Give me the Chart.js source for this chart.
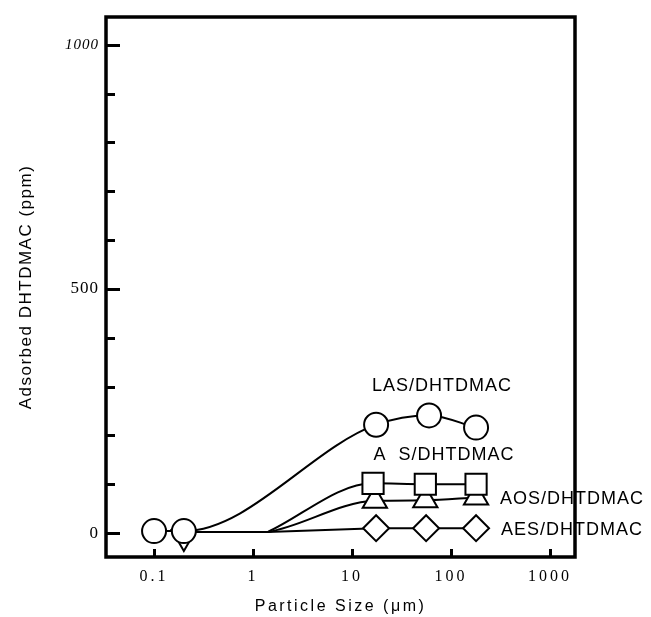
<!DOCTYPE html>
<html><head><meta charset="utf-8">
<script src="https://cdn.jsdelivr.net/npm/chart.js@4.4.0/dist/chart.umd.min.js"></script>
<style>html,body{margin:0;padding:0;background:#fff}#wrap{width:651px;height:617px}</style>
</head><body><div id="wrap"><canvas id="c" width="651" height="617"></canvas></div>
<script>
// ---- data ----
const lasX = [0.1, 0.2, 17.5, 60, 179];
const lasY = [4, 4, 222, 241, 216];
const asX  = [1.4, 16.3, 55, 179];
const asY  = [2, 102, 100, 100];
const aosX = [0.2, 1.4, 17, 55, 179];
const aosY = [-8, 2, 66, 67, 73];
const aesX = [0.2, 1.4, 17.5, 56, 179];
const aesY = [2, 2, 10, 10, 10];
const seriesNames = ['LAS/DHTDMAC', 'A  S/DHTDMAC', 'AOS/DHTDMAC', 'AES/DHTDMAC'];
const xTickValues = [0.1, 1, 10, 100, 1000];
const xTickLabels = ['0.1', '1', '10', '100', '1000'];
const yTickValues = [0, 100, 200, 300, 400, 500, 600, 700, 800, 900, 1000];
const yTickLabels = {0: '0', 500: '500', 1000: '1000'};
const xTitle = 'Particle Size (\u03bcm)';
const yTitle = 'Adsorbed DHTDMAC (ppm)';

const pts = (xs, ys) => xs.map((x, i) => ({x: x, y: ys[i]}));

// label anchors (style): [x value, y value, align]
const labelAnchors = [
  [81, 302, 'center'],
  [85, 159, 'center'],
  [313, 69, 'left'],
  [320, 6, 'left']
];
const letterSpacing = {x: {labels: '3px', title: '2.5px'}, y: {labels: '1px', title: '1.5px'}};

const spacingPlugin = {
  id: 'spacing',
  beforeDraw(chart) {
    Object.keys(chart.scales).forEach(id => {
      const s = chart.scales[id];
      if (s._lsPatched) return;
      s._lsPatched = true;
      [['drawTitle', 'title'], ['drawLabels', 'labels']].forEach(([fn, key]) => {
        const orig = s[fn];
        s[fn] = function () {
          const c = this.ctx; const prev = c.letterSpacing;
          c.letterSpacing = (letterSpacing[id] || {})[key] || '0px';
          orig.apply(this, arguments);
          c.letterSpacing = prev;
        };
      });
    });
  }
};

const framePlugin = {
  id: 'frame',
  afterDatasetsDraw(chart) {
    const {ctx, scales: {x, y}} = chart;
    ctx.save();
    ctx.fillStyle = '#000';
    ctx.font = '18px "Liberation Sans", Arial, sans-serif';
    ctx.letterSpacing = '1px';
    ctx.textBaseline = 'middle';
    labelAnchors.forEach((a, i) => {
      ctx.textAlign = a[2];
      ctx.fillText(seriesNames[i], x.getPixelForValue(a[0]), y.getPixelForValue(a[1]));
    });
    ctx.restore();
  },
  afterDraw(chart) {
    const {ctx, chartArea: a, scales: {x, y}} = chart;
    ctx.save();
    ctx.strokeStyle = '#000';
    ctx.lineWidth = 3;
    ctx.beginPath();
    y.ticks.forEach(t => {
      const py = Math.round(y.getPixelForValue(t.value)) + 0.5;
      const len = (t.value % 500 === 0) ? 14 : 9;
      ctx.moveTo(a.left, py); ctx.lineTo(a.left + len, py);
    });
    x.ticks.forEach(t => {
      const px = Math.round(x.getPixelForValue(t.value)) + 0.5;
      ctx.moveTo(px, a.bottom); ctx.lineTo(px, a.bottom - 8);
    });
    ctx.stroke();
    ctx.lineWidth = 3.5;
    ctx.strokeRect(a.left, a.top, a.right - a.left, a.bottom - a.top);
    ctx.restore();
  }
};

const common = {
  borderColor: '#000', borderWidth: 2, backgroundColor: '#fff',
  pointBorderColor: '#000', pointBackgroundColor: '#fff', pointBorderWidth: 2,
  fill: false, showLine: true
};

new Chart(document.getElementById('c'), {
  type: 'scatter',
  data: {
    datasets: [
      Object.assign({}, common, {
        label: seriesNames[0], data: pts(lasX, lasY),
        pointStyle: 'circle', pointRadius: 12, cubicInterpolationMode: 'monotone'
      }),
      Object.assign({}, common, {
        label: seriesNames[1], data: pts(asX, asY),
        pointStyle: 'rect', pointRadius: [0, 15, 15, 15], cubicInterpolationMode: 'monotone'
      }),
      Object.assign({}, common, {
        label: seriesNames[2], data: pts(aosX, aosY),
        pointStyle: 'triangle', pointRadius: [14, 0, 14, 14, 14], pointRotation: [180, 0, 0, 0, 0],
        cubicInterpolationMode: 'monotone',
        segment: {borderColor: c => c.p0DataIndex === 0 ? 'rgba(0,0,0,0)' : '#000'}
      }),
      Object.assign({}, common, {
        label: seriesNames[3], data: pts(aesX, aesY),
        pointStyle: 'rectRot', pointRadius: [0, 0, 13, 13, 13], tension: 0
      })
    ]
  },
  options: {
    responsive: false,
    animation: false,
    layout: {padding: {left: 0, top: 15, right: 76, bottom: 0}},
    plugins: {legend: {display: false}, tooltip: {enabled: false}},
    scales: {
      x: {
        type: 'logarithmic', min: 0.0327, max: 1788,
        afterBuildTicks: s => { s.ticks = xTickValues.map(v => ({value: v})); },
        afterFit: s => { s.height = 60; },
        grid: {display: false, drawTicks: false},
        border: {display: false},
        ticks: {
          autoSkip: false, maxRotation: 0, padding: 10, color: '#000',
          font: {family: '"Liberation Serif", serif', size: 16},
          callback: (v, i) => xTickLabels[i]
        },
        title: {display: true, text: xTitle, color: '#000',
          font: {family: '"Liberation Sans", Arial, sans-serif', size: 16},
          padding: {top: 0, bottom: 1}}
      },
      y: {
        type: 'linear', min: -49, max: 1057,
        afterBuildTicks: s => { s.ticks = yTickValues.map(v => ({value: v})); },
        afterFit: s => { s.width = 106; },
        grid: {display: false, drawTicks: false},
        border: {display: false},
        ticks: {
          autoSkip: false, padding: 7, color: '#000',
          font: c => ({family: '"Liberation Serif", serif', size: (c.tick && c.tick.value === 1000) ? 15 : 17, style: (c.tick && c.tick.value === 1000) ? 'italic' : 'normal'}),
          callback: v => (yTickLabels[v] !== undefined ? yTickLabels[v] : '')
        },
        title: {display: true, text: yTitle, color: '#000',
          font: {family: '"Liberation Sans", Arial, sans-serif', size: 17},
          padding: {top: 16, bottom: 0}}
      }
    }
  },
  plugins: [spacingPlugin, framePlugin]
});
</script>
</body></html>
